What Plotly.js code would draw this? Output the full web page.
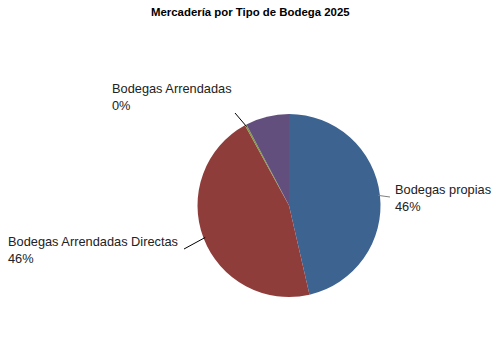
<!DOCTYPE html>
<html><head><meta charset="utf-8">
<script src="https://cdn.plot.ly/plotly-3.0.1.min.js"></script>
<style>html,body{margin:0;padding:0;background:#fff}</style>
</head><body><div id="chart" style="width:500px;height:350px"></div>
<script>
const categories = ["Bodegas propias", "Bodegas Arrendadas Directas", "Bodegas Arrendadas", "Otras"];
const values = [46.4, 45.6, 0.3, 7.7];
const colors = ["#3d6391", "#8f3d3b", "#7e9a3e", "#634f7d"];
const showLabel = [true, true, true, false];

const W = 500, H = 350;
const dom = {x: [0.395, 0.761], y: [0.1514, 0.6743]};
const cx = (dom.x[0] + dom.x[1]) / 2 * W;
const cy = (1 - (dom.y[0] + dom.y[1]) / 2) * H;
const R = Math.min((dom.x[1]-dom.x[0]) * W, (dom.y[1]-dom.y[0]) * H) / 2;

const total = values.reduce((a, b) => a + b, 0);
// label text placement (layout, pixels) and leader-line tail (pixels)
const labelPos = [
  {x: 393, y: 180, tx: 390, ty: 197},
  {x: 6, y: 232, tx: 184, ty: 249},
  {x: 110, y: 79, tx: 235, ty: 113}
];
const annotations = [{
  text: "<b>Mercadería por Tipo de Bodega 2025</b>",
  xref: "paper", yref: "paper", x: 0.5, y: 1 - 12/H, xanchor: "center", yanchor: "middle",
  showarrow: false, font: {family: "Liberation Sans, Arial", size: 11.4, color: "#000"}
}];
const shapes = [];
let cum = 0;
values.forEach((v, i) => {
  const mid = (cum + v / 2) / total * 2 * Math.PI;
  cum += v;
  if (!showLabel[i]) return;
  const hx = cx + R * Math.sin(mid) * 0.98;
  const hy = cy - R * Math.cos(mid) * 0.98;
  const lp = labelPos[i];
  shapes.push({type: "line", xref: "paper", yref: "paper",
    x0: hx / W, y0: 1 - hy / H, x1: lp.tx / W, y1: 1 - lp.ty / H,
    line: {color: i === 0 ? "#7f7f7f" : "#000", width: 1}});
  annotations.push({
    text: categories[i] + "<br>" + Math.round(v / total * 100) + "%",
    xref: "paper", yref: "paper", x: lp.x / W, y: 1 - lp.y / H,
    xanchor: "left", yanchor: "top", align: "left", showarrow: false,
    font: {family: "Liberation Sans, Arial", size: 12.8, color: "#222"}
  });
});

Plotly.newPlot("chart", [{
  type: "pie", labels: categories, values: values, sort: false,
  direction: "clockwise", rotation: 0, textinfo: "none",
  marker: {colors: colors, line: {width: 0}},
  domain: dom, showlegend: false
}], {
  width: W, height: H, margin: {l: 0, r: 0, t: 0, b: 0},
  paper_bgcolor: "#fff", plot_bgcolor: "#fff",
  annotations: annotations, shapes: shapes, showlegend: false
}, {staticPlot: true});
</script></body></html>
